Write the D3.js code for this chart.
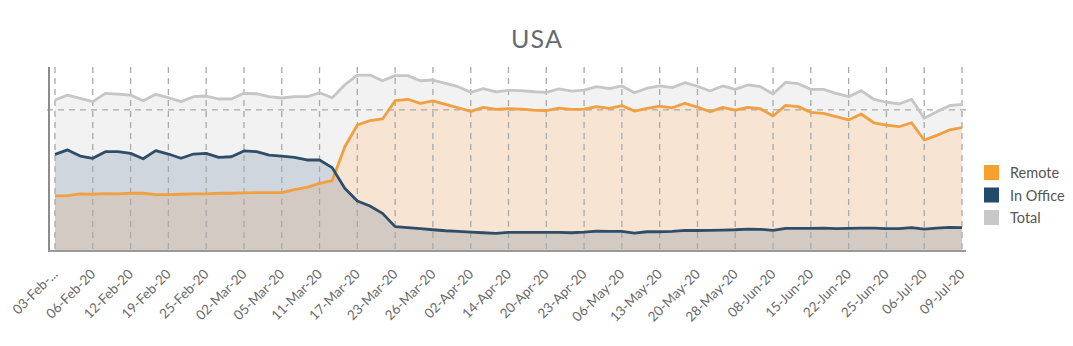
<!DOCTYPE html>
<html>
<head>
<meta charset="utf-8">
<script src="https://cdn.jsdelivr.net/npm/d3@7"></script>
<style>
  html, body { margin: 0; padding: 0; background: #fff; }
  svg { display: block; font-family: Lato, "Open Sans", sans-serif; }
</style>
</head>
<body>
<svg id="chart" width="1073" height="346"></svg>
<script>
// Tick labels shown under every third observation
const tickLabels = ["03-Feb-...", "06-Feb-20", "12-Feb-20", "19-Feb-20", "25-Feb-20", "02-Mar-20",
  "05-Mar-20", "11-Mar-20", "17-Mar-20", "23-Mar-20", "26-Mar-20", "02-Apr-20", "14-Apr-20",
  "20-Apr-20", "23-Apr-20", "06-May-20", "13-May-20", "20-May-20", "28-May-20", "08-Jun-20",
  "15-Jun-20", "22-Jun-20", "25-Jun-20", "06-Jul-20", "09-Jul-20"];

// Daily index values (observation order)
const remote = [38.9, 39.1, 40.3, 40.1, 40.5, 40.3, 40.8, 40.8, 39.8, 39.8, 40.1, 40.3, 40.3, 40.8, 40.8,
  41.0, 41.2, 41.2, 41.2, 43.3, 45.0, 47.8, 49.7, 73.5, 89.0, 92.1, 93.3, 106.2, 107.2, 104.3, 106.0,
  103.6, 101.2, 98.7, 101.5, 100.1, 100.5, 100.3, 99.6, 99.1, 101.0, 100.1, 100.3, 102.0, 100.8, 102.7,
  98.9, 100.8, 102.4, 101.2, 104.4, 101.7, 98.4, 101.5, 99.6, 101.5, 100.5, 95.4, 102.9, 102.0, 98.0,
  97.3, 94.9, 92.6, 96.8, 90.6, 89.0, 87.8, 90.6, 78.4, 81.7, 85.5, 87.1];

const inOffice = [68.3, 71.4, 67.1, 65.5, 70.2, 70.2, 69.0, 65.2, 70.9, 68.5, 65.5, 68.5, 69.0, 66.2, 66.6,
  70.7, 70.2, 67.8, 67.1, 66.2, 64.3, 64.3, 58.9, 44.3, 35.3, 31.8, 26.6, 17.2, 16.5, 15.8, 15.0, 14.3,
  13.9, 13.4, 12.9, 12.5, 13.2, 13.2, 13.2, 13.2, 13.2, 12.9, 13.4, 14.1, 13.9, 13.9, 12.7, 13.6, 13.6,
  13.9, 14.6, 14.5, 14.6, 14.8, 15.0, 15.5, 15.3, 14.6, 16.0, 16.0, 16.0, 16.2, 15.8, 16.0, 16.2, 16.2,
  15.8, 15.8, 16.5, 15.5, 16.2, 16.7, 16.5];

const total = [106.7, 110.2, 107.9, 105.5, 111.4, 110.9, 110.2, 106.2, 110.7, 108.3, 105.5, 109.0, 109.5,
  107.4, 107.4, 111.4, 111.1, 109.0, 108.1, 109.0, 109.0, 111.8, 108.3, 117.3, 124.3, 124.3, 120.3,
  123.9, 123.9, 120.3, 120.8, 118.5, 116.1, 112.1, 114.7, 112.5, 113.5, 113.3, 112.5, 112.1, 114.5,
  113.0, 113.7, 116.1, 114.7, 116.6, 111.8, 115.0, 116.6, 115.4, 118.9, 116.4, 113.0, 116.6, 114.2,
  117.3, 116.1, 110.9, 119.2, 118.2, 114.2, 114.2, 111.4, 109.0, 113.3, 107.2, 105.1, 103.9, 107.2,
  93.8, 98.4, 102.7, 103.6];

const seriesNames = ["Remote", "In Office", "Total"];
const yGridValues = [100];

const svg = d3.select("#chart");
const plotLeft = 49, plotRight = 966, plotTop = 67, plotBottom = 251;

const idx = d3.range(remote.length);
const x = d3.scalePoint().domain(idx).range([55, 962]);
const y = d3.scaleLinear().domain([0, 130]).range([plotBottom, plotTop]);

const areaOf = vals => d3.area().x(i => x(i)).y0(y(0)).y1(i => y(vals[i]));
const lineOf = vals => d3.line().x(i => x(i)).y(i => y(vals[i]));

// Title
svg.append("text")
  .attr("x", 537).attr("y", 48)
  .attr("text-anchor", "middle")
  .attr("font-size", 25)
  .attr("letter-spacing", 1.2)
  .attr("fill", "#666b72")
  .text("USA");

// Filled areas
svg.append("path").datum(idx).attr("d", areaOf(total)).attr("fill", "#f2f2f2");
svg.append("path").datum(idx).attr("d", areaOf(remote)).attr("fill", "#f7e4d2");
svg.append("path").datum(idx).attr("d", areaOf(inOffice)).attr("fill", "#d0d6de");

// Overlap of the remote and in-office areas
svg.append("clipPath").attr("id", "officeClip")
  .append("path").datum(idx).attr("d", areaOf(inOffice));
svg.append("path").datum(idx).attr("d", areaOf(remote))
  .attr("fill", "#d3cbc3").attr("clip-path", "url(#officeClip)");

// Vertical dashed grid at labelled dates
const tickIdx = idx.filter(i => i % 3 === 0);
svg.append("g").selectAll("line").data(tickIdx).join("line")
  .attr("x1", d => x(d)).attr("x2", d => x(d))
  .attr("y1", plotTop).attr("y2", plotBottom)
  .attr("stroke", "#a9a9a9").attr("stroke-width", 1.3)
  .attr("stroke-dasharray", "6,5");

// Horizontal dashed grid
const yAxis = d3.axisLeft(y).tickValues(yGridValues).tickSizeInner(-(plotRight - plotLeft)).tickSizeOuter(0).tickFormat("");
const gy = svg.append("g").attr("transform", `translate(${plotLeft},0)`).call(yAxis);
gy.select(".domain").remove();
gy.selectAll(".tick line").attr("stroke", "#a9a9a9").attr("stroke-width", 1.3)
  .attr("stroke-dasharray", "6,5").attr("x1", -2);

// Lines
svg.append("path").datum(idx).attr("d", lineOf(total))
  .attr("fill", "none").attr("stroke", "#c6c6c6").attr("stroke-width", 2.8).attr("stroke-linejoin", "round");
svg.append("path").datum(idx).attr("d", lineOf(remote))
  .attr("fill", "none").attr("stroke", "#f0a040").attr("stroke-width", 2.8).attr("stroke-linejoin", "round");
svg.append("path").datum(idx).attr("d", lineOf(inOffice))
  .attr("fill", "none").attr("stroke", "#2e4d68").attr("stroke-width", 2.8).attr("stroke-linejoin", "round");

// Axis lines
svg.append("line").attr("x1", plotLeft).attr("x2", plotLeft).attr("y1", plotTop).attr("y2", plotBottom + 1)
  .attr("stroke", "#8c8c8c").attr("stroke-width", 2);
svg.append("line").attr("x1", plotLeft - 1).attr("x2", plotRight).attr("y1", plotBottom).attr("y2", plotBottom)
  .attr("stroke", "#9a9a9a").attr("stroke-width", 2);

// X axis labels
const xAxis = d3.axisBottom(x).tickValues(tickIdx).tickSize(0)
  .tickFormat(i => tickLabels[i / 3]);
const gx = svg.append("g").attr("transform", `translate(0,${plotBottom})`).call(xAxis);
gx.select(".domain").remove();
gx.selectAll(".tick text")
  .attr("font-family", "Lato, sans-serif")
  .attr("font-size", 13.5)
  .attr("fill", "#6a6a6a")
  .attr("text-anchor", "end")
  .attr("dy", null)
  .attr("y", 0)
  .attr("transform", "translate(3,24) rotate(-45)");

// Legend
const legendColors = ["#f7a02b", "#234a68", "#c8c8c8"];
const lg = svg.append("g").attr("transform", "translate(984,165)");
seriesNames.forEach((name, k) => {
  const row = lg.append("g").attr("transform", `translate(0,${k * 22.5})`);
  row.append("rect").attr("width", 15).attr("height", 15).attr("fill", legendColors[k]);
  row.append("text").attr("x", 26).attr("y", 13)
    .attr("font-size", 14.5).attr("fill", "#555").text(name);
});
</script>
</body>
</html>
